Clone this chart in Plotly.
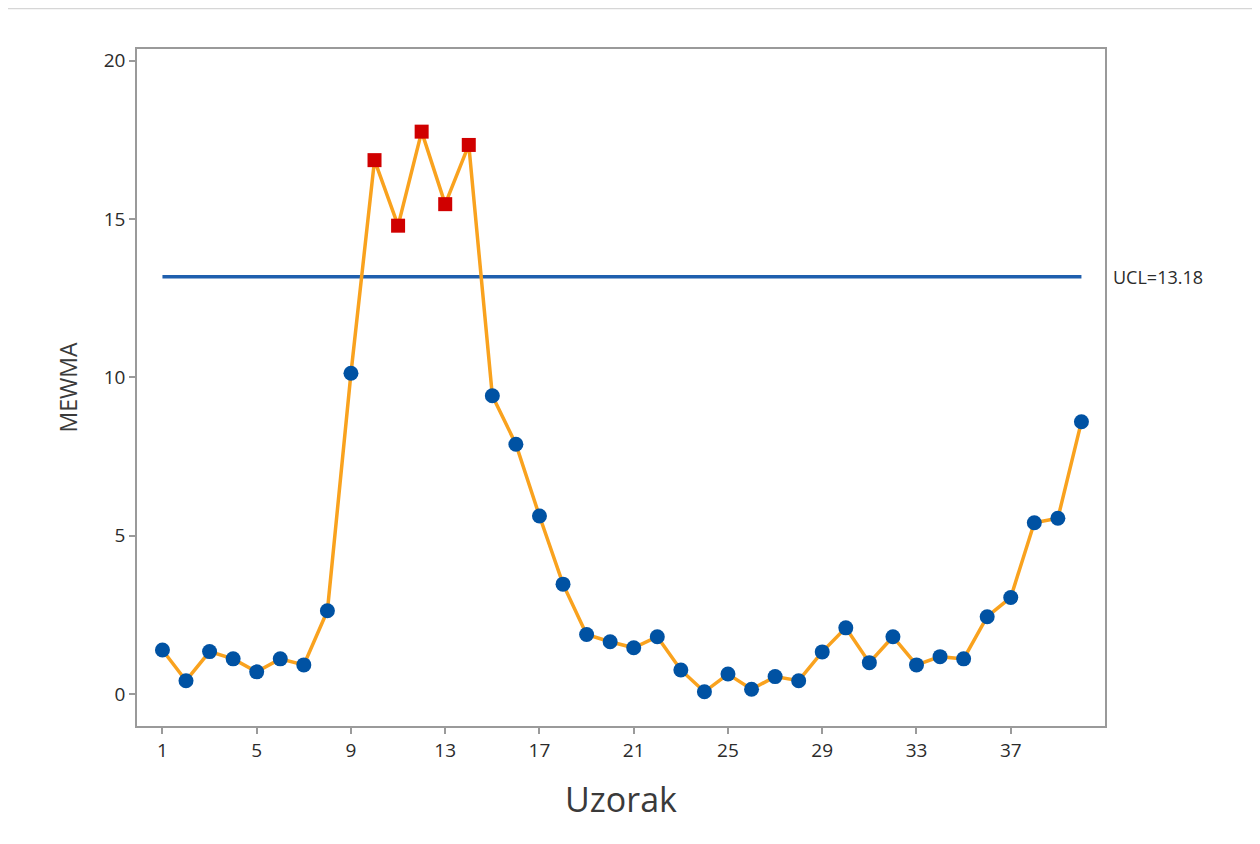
import plotly.graph_objects as go

samples = list(range(1, 41))
mewma = [1.39, 0.42, 1.34, 1.11, 0.70, 1.11, 0.92, 2.63, 10.13, 16.86,
         14.79, 17.76, 15.47, 17.34, 9.42, 7.89, 5.62, 3.47, 1.88, 1.65,
         1.46, 1.81, 0.76, 0.07, 0.63, 0.15, 0.55, 0.42, 1.33, 2.09,
         0.99, 1.81, 0.92, 1.18, 1.11, 2.44, 3.05, 5.41, 5.55, 8.60]
ucl = 13.18
x_ticks = [1, 5, 9, 13, 17, 21, 25, 29, 33, 37]
y_ticks = [0, 5, 10, 15, 20]

font_family = "Open Sans, Noto Sans, DejaVu Sans, sans-serif"
text_color = "#2b2b2b"

in_x = [s for s, v in zip(samples, mewma) if v <= ucl]
in_y = [v for v in mewma if v <= ucl]
out_x = [s for s, v in zip(samples, mewma) if v > ucl]
out_y = [v for v in mewma if v > ucl]

fig = go.Figure()
fig.add_trace(go.Scatter(x=[samples[0], samples[-1]], y=[ucl, ucl], mode="lines",
                         line=dict(color="#1f5fae", width=3.5), hoverinfo="skip",
                         showlegend=False))
fig.add_trace(go.Scatter(x=samples, y=mewma, mode="lines",
                         line=dict(color="#f9a21e", width=3.5), showlegend=False))
fig.add_trace(go.Scatter(x=in_x, y=in_y, mode="markers",
                         marker=dict(symbol="circle", size=15, color="#0052a3",
                                     line=dict(width=0)), showlegend=False))
fig.add_trace(go.Scatter(x=out_x, y=out_y, mode="markers",
                         marker=dict(symbol="square", size=14, color="#d00000",
                                     line=dict(width=0)), showlegend=False))

fig.add_annotation(x=1.0, xref="paper", xanchor="left", xshift=6,
                   y=ucl, yref="y", text="UCL=13.18", showarrow=False,
                   font=dict(size=18, color=text_color, family=font_family))

# page body adds an 8px offset; work in target-image pixels
OFF = 8
L, T, W, H = 137 - OFF, 49 - OFF, 968, 677
FW, FH = 1260 - OFF, 844 - OFF


def px(xp):
    return (xp - OFF - L) / W


def py(yp):
    return (T + H - (yp - OFF)) / H


# outer frame line (top)
fig.add_shape(type="line", xref="paper", yref="paper", x0=px(4), x1=px(1260),
              y0=py(8.5), y1=py(8.5), line=dict(color="#d6d6d6", width=1.5))

axis_common = dict(showline=True, linecolor="#9a9a9a", linewidth=1.5, mirror=True,
                   ticks="outside", ticklen=6, tickcolor="#9a9a9a", tickwidth=1.5,
                   showgrid=False, zeroline=False,
                   tickfont=dict(size=19, color=text_color, family=font_family))

fig.update_xaxes(range=[-0.08, 41.0], tickvals=x_ticks,
                 title=dict(text="Uzorak", font=dict(size=34, color="#3a3a3a",
                                                     family=font_family), standoff=27),
                 **axis_common)
fig.update_yaxes(range=[-1.01, 20.37], tickvals=y_ticks,
                 title=dict(text="MEWMA", font=dict(size=23, color="#3a3a3a",
                                                    family=font_family), standoff=20),
                 **axis_common)

fig.update_layout(width=FW, height=FH,
                  margin=dict(l=L, r=FW - L - W, t=T, b=FH - T - H),
                  plot_bgcolor="white", paper_bgcolor="white",
                  font=dict(family=font_family, color=text_color))

fig.write_html("out.html")
